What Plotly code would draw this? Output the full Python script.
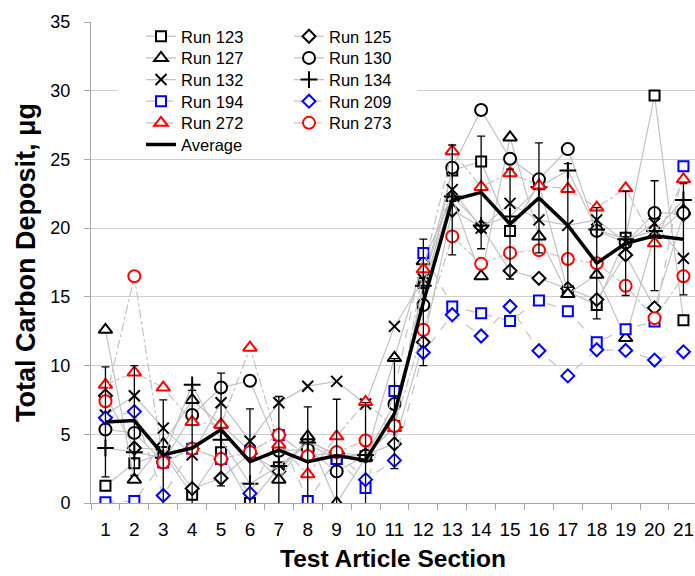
import plotly.graph_objects as go

# ---- data -------------------------------------------------------------
sections = list(range(1, 22))
section_labels = [str(s) for s in sections]

run_123 = [1.25, 2.9, 3.6, 0.6, 3.7, 0.0, 2.6, 4.3, 3.2, 3.4, 5.6, 16.0, 24.2, 24.85, 19.8, 23.2, 15.4, 14.4, 19.3, 29.65, 13.3]
run_125 = [7.8, 4.0, 3.9, 1.05, 1.8, 3.6, 2.3, 4.6, 3.4, 3.5, 4.3, 11.7, 21.3, 20.1, 16.9, 16.35, 15.6, 14.8, 18.05, 14.2, 21.0]
run_127 = [12.6, 1.7, 4.3, 7.5, 5.7, 3.8, 1.7, 4.85, 0.0, 3.3, 10.55, 17.6, 22.2, 16.5, 26.6, 19.4, 15.2, 16.6, 12.0, 19.5, 21.3]
run_130 = [5.35, 5.1, 3.0, 6.4, 8.4, 8.9, 3.8, 3.9, 2.3, 3.44, 7.2, 14.4, 24.4, 28.6, 25.05, 23.55, 25.75, 19.8, 18.95, 21.1, 21.1]
run_132 = [6.4, 7.8, 5.45, 3.5, 7.3, 4.5, 7.3, 8.5, 8.85, 7.2, 12.85, 16.3, 22.8, 20.0, 21.8, 20.6, 20.2, 20.6, 19.0, 20.35, 17.8]
run_134 = [4.0, 3.7, 3.3, 8.6, 4.6, 1.4, 2.7, 4.4, 3.6, 3.5, 5.5, 15.8, 22.3, 20.2, 20.85, 23.0, 24.2, 19.9, 19.2, 19.8, 22.05]
run_194 = [0.05, 0.15, 2.95, 3.95, 3.2, 3.7, 4.95, 0.15, 3.2, 1.1, 8.15, 18.2, 14.3, 13.8, 13.25, 14.74, 13.95, 11.7, 12.65, 13.2, 24.5]
run_209 = [6.2, 6.65, 0.55, 3.95, 3.2, 0.7, 4.95, 3.4, 3.7, 1.7, 3.1, 10.95, 13.7, 12.15, 14.3, 11.08, 9.25, 11.15, 11.1, 10.4, 11.0]
run_272 = [8.6, 9.5, 8.4, 5.9, 5.7, 11.3, 4.25, 2.1, 4.85, 7.35, 5.45, 17.0, 25.6, 23.0, 24.0, 23.1, 22.85, 21.5, 22.9, 18.9, 23.55]
run_273 = [7.4, 16.5, 2.95, 3.95, 3.2, 3.7, 4.95, 3.4, 3.7, 4.55, 5.6, 12.6, 19.4, 17.4, 18.2, 18.4, 17.75, 17.45, 15.8, 13.45, 16.5]

average = [5.9, 6.0, 3.5, 4.0, 5.35, 3.0, 3.85, 3.0, 3.45, 3.1, 6.5, 14.6, 22.05, 22.6, 20.3, 22.2, 20.2, 17.45, 18.9, 19.45, 19.2]
std_dev = [4.0, 4.0, 4.0, 4.2, 4.1, 3.85, 3.9, 4.0, 4.1, 4.2, 4.0, 4.6, 4.0, 4.1, 4.0, 4.0, 4.5, 4.05, 3.8, 4.0, 4.05]

# ---- styling ----------------------------------------------------------
FONT = "Liberation Sans, Arial, sans-serif"
LINK_GRAY = "#c2c2c2"
GRID = "#cfcfcf"
AXIS = "#a6a6a6"

# name, values, symbol, colour, connector dash, marker size
runs = [
    ("Run 123", run_123, "square", "black", "solid", 10),
    ("Run 125", run_125, "diamond", "black", "solid", 10),
    ("Run 127", run_127, "triangle-up", "black", "solid", 12),
    ("Run 130", run_130, "circle", "black", "solid", 12),
    ("Run 132", run_132, "x-thin", "black", "solid", 11),
    ("Run 134", run_134, "cross-thin", "black", "solid", 12),
    ("Run 194", run_194, "square", "#0000ff", "dash", 10),
    ("Run 209", run_209, "diamond", "#0000ff", "dash", 10),
    ("Run 272", run_272, "triangle-up", "#ff0000", "dashdot", 12),
    ("Run 273", run_273, "circle", "#ff0000", "dashdot", 12),
]

# plot-area geometry (pixels) used to place the legend rows
W, H = 695, 576
M_L, M_R, M_T, M_B = 91, 0, 22, 73
plot_w = W - M_L - M_R
plot_h = H - M_T - M_B


def legend_id(i):
    row = i // 2
    return "legend" if row == 0 else f"legend{row + 1}"


fig = go.Figure()

for i, (name, vals, sym, col, dash, size) in enumerate(runs):
    line_sym = sym in ("x-thin", "cross-thin")
    fig.add_trace(go.Scatter(
        x=sections, y=vals, name=name, mode="lines+markers",
        line=dict(color=LINK_GRAY, width=1.2, dash=dash),
        marker=dict(symbol=sym, size=size,
                    color=col if line_sym else "white",
                    line=dict(color=col, width=2)),
        legend=legend_id(i),
    ))

fig.add_trace(go.Scatter(
    x=sections, y=average, name="Average", mode="lines",
    line=dict(color="black", width=3.5),
    error_y=dict(type="data", array=std_dev, visible=True,
                 color="black", thickness=1.3, width=4),
    legend=legend_id(10),
))

# two-column legend: one horizontal legend per row
row_px = [36.5 + 21.65 * r for r in range(6)]
legend_layouts = {}
for r, py in enumerate(row_px):
    key = "legend" if r == 0 else f"legend{r + 1}"
    legend_layouts[key] = dict(
        orientation="h",
        x=(141 - M_L) / plot_w, xanchor="left",
        y=(H - M_B - py) / plot_h, yanchor="middle",
        entrywidth=103, entrywidthmode="pixels",
        bgcolor="rgba(0,0,0,0)",
        font=dict(family=FONT, size=16.5, color="black"),
        itemclick=False, itemdoubleclick=False,
        tracegroupgap=0,
    )

fig.update_layout(
    width=W, height=H,
    margin=dict(l=M_L, r=M_R, t=M_T, b=M_B),
    paper_bgcolor="white", plot_bgcolor="white",
    font=dict(family=FONT, color="black"),
    showlegend=True,
    **legend_layouts,
    shapes=[dict(type="rect", xref="paper", yref="paper",
                 x0=(117 - M_L) / plot_w, x1=(417 - M_L) / plot_w,
                 y0=(H - M_B - 157) / plot_h, y1=0.995,
                 fillcolor="white", line=dict(width=0), layer="above")],
)

fig.update_xaxes(
    range=[0.5, 21.4], tickmode="array", tickvals=sections, ticktext=section_labels,
    ticks="", showgrid=False, zeroline=False,
    showline=True, linecolor=AXIS, linewidth=1,
    ticklabelstandoff=9,
    tickfont=dict(family=FONT, size=19, color="black"),
    minor=dict(tickvals=[s + 0.5 for s in range(0, 22)], ticks="outside",
               ticklen=6, tickcolor=AXIS, showgrid=False),
    title=dict(text="<b>Test Article Section</b>",
               font=dict(family=FONT, size=24.5, color="black"), standoff=11),
)

fig.update_yaxes(
    range=[0, 35], dtick=5, tick0=0,
    showgrid=True, gridcolor=GRID, gridwidth=1, zeroline=False,
    showline=True, linecolor=AXIS, linewidth=1,
    ticks="outside", ticklen=6, tickcolor=AXIS,
    ticklabelstandoff=10,
    tickfont=dict(family=FONT, size=18, color="black"),
    title=dict(text="<b>Total Carbon Deposit, μg</b>",
               font=dict(family=FONT, size=27, color="black"), standoff=6),
)

fig.write_html("out.html")
